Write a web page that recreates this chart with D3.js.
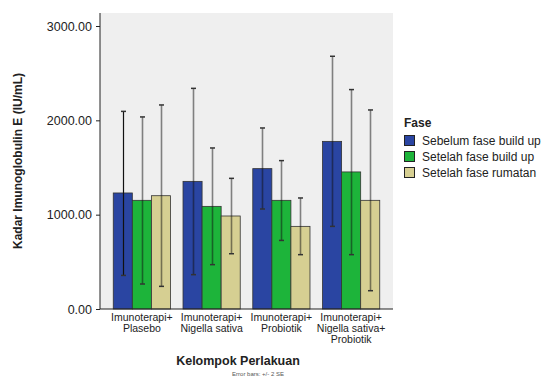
<!DOCTYPE html>
<html><head><meta charset="utf-8">
<script src="https://cdn.jsdelivr.net/npm/d3@7"></script>
<style>body{margin:0;background:#fff}svg{display:block;font-family:Arial,"Liberation Sans",sans-serif}</style>
</head><body><svg id="c" width="553" height="378"></svg>
<script>
const groups = [["Imunoterapi+","Plasebo"],["Imunoterapi+","Nigella sativa"],["Imunoterapi+","Probiotik"],["Imunoterapi+","Nigella sativa+","Probiotik"]];
const series = ["Sebelum fase build up","Setelah fase build up","Setelah fase rumatan"];
const colors = ["#2a45a2","#1db43a","#d6cf92"];
const means = [[1230,1152,1201],[1353,1088,986],[1488,1152,876],[1777,1453,1152]];
const upper = [[2095,2036,2163],[2339,1707,1385],[1919,1573,1177],[2679,2326,2110]];
const lower = [[356,265,240],[364,470,586],[1060,727,576],[876,576,194]];
const yTicks = [0,1000,2000,3000];

const svg = d3.select("#c");
const L=100,R=393,T=13,B=309;
const y = d3.scaleLinear().domain([0,3000]).range([B,26]);
const x0 = d3.scaleBand().domain(d3.range(groups.length)).range([L,R]).paddingInner(0.18).paddingOuter(0.19);
const x1 = d3.scaleBand().domain(d3.range(series.length)).range([0,x0.bandwidth()]);

svg.append("rect").attr("x",L).attr("y",T).attr("width",R-L).attr("height",B-T).attr("fill","#efefef");

const g = svg.append("g");
groups.forEach((grp,gi)=>{
  series.forEach((s,si)=>{
    g.append("rect").attr("x",x0(gi)+x1(si)).attr("y",y(means[gi][si])).attr("width",x1.bandwidth()).attr("height",B-y(means[gi][si]))
     .attr("fill",colors[si]).attr("stroke","#333").attr("stroke-width",0.8);
  });
});
groups.forEach((grp,gi)=>{
  series.forEach((s,si)=>{
    const cx = Math.round(x0(gi)+x1(si)+x1.bandwidth()/2)+0.5;
    const first = gi===0&&si===0;
    g.append("line").attr("x1",cx).attr("x2",cx).attr("y1",y(upper[gi][si])).attr("y2",y(lower[gi][si]))
      .attr("stroke","#111").attr("stroke-opacity",first?1:0.5).attr("stroke-width",first?1.2:1.6);
    [upper[gi][si],lower[gi][si]].forEach(v=>{
      g.append("line").attr("x1",cx-2.5).attr("x2",cx+2.5).attr("y1",y(v)).attr("y2",y(v)).attr("stroke","#333").attr("stroke-width",1.5);
    });
  });
});

// axes
const ya = svg.append("g").attr("transform",`translate(${L},0)`).call(d3.axisLeft(y).tickValues(yTicks).tickSize(4).tickFormat(d3.format(".2f")));
ya.select(".domain").attr("d",`M0,${T}V${B}`).attr("stroke","#222");
ya.selectAll(".tick line").attr("stroke","#222");
ya.selectAll("text").attr("font-size","12.5px").attr("fill","#222").attr("x",-8).attr("font-family","Arial,'Liberation Sans',sans-serif");

svg.append("line").attr("x1",L).attr("x2",R).attr("y1",B).attr("y2",B).attr("stroke","#222").attr("stroke-width",1.2);

// x labels
groups.forEach((grp,gi)=>{
  const cx = x0(gi)+x0.bandwidth()/2;
  const t = svg.append("text").attr("text-anchor","middle").attr("font-size","10.5px").attr("fill","#222");
  grp.forEach((ln,li)=>t.append("tspan").attr("x",cx).attr("y",321+li*10.8).text(ln));
});

svg.append("text").attr("x",238).attr("y",365).attr("text-anchor","middle").attr("font-size","12.5px").attr("font-weight","bold").attr("fill","#222").text("Kelompok Perlakuan");
svg.append("text").attr("x",258).attr("y",376).attr("text-anchor","middle").attr("font-size","6px").attr("fill","#555").text("Error bars: +/- 2 SE");
svg.append("text").attr("transform","translate(22,161) rotate(-90)").attr("text-anchor","middle").attr("font-size","12px").attr("font-weight","bold").attr("fill","#222").text("Kadar Imunoglobulin E (IU/mL)");

// legend
const lg = svg.append("g");
lg.append("text").attr("x",404).attr("y",127).attr("font-size","12px").attr("font-weight","bold").attr("fill","#222").text("Fase");
series.forEach((s,si)=>{
  lg.append("rect").attr("x",404.5).attr("y",135.5+si*16).attr("width",10).attr("height",10).attr("fill",colors[si]).attr("stroke","#222").attr("stroke-width",1);
  lg.append("text").attr("x",422).attr("y",145+si*16).attr("font-size","12px").attr("fill","#222").text(s);
});
</script></body></html>
